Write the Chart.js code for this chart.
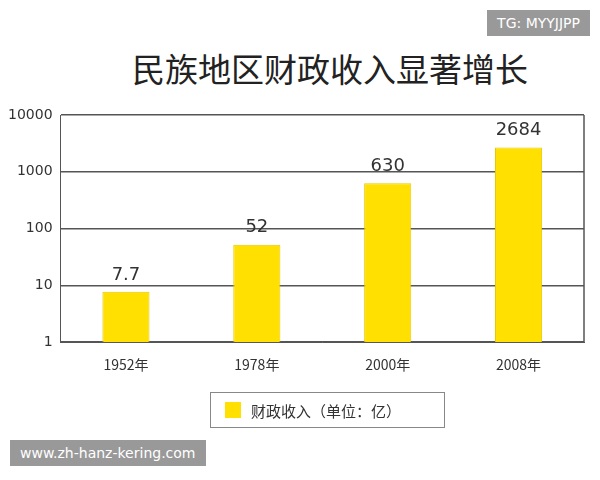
<!DOCTYPE html>
<html><head><meta charset="utf-8">
<script src="https://cdn.jsdelivr.net/npm/chart.js@4"></script>
<style>
body{margin:0;background:#fff;font-family:"Noto Sans CJK SC","Noto Sans",sans-serif;}
#wrap{position:relative;width:600px;height:480px;}
#title{position:absolute;top:44px;left:0;width:600px;text-align:center;font-size:33px;color:#222;padding-left:60px;box-sizing:border-box;}
.wm{position:absolute;background:#999;color:#fff;font-family:"DejaVu Sans",sans-serif;font-size:14px;padding:5px 10px;}
#legend{position:absolute;left:210px;top:392px;width:235px;height:36px;border:1px solid #888;display:flex;align-items:center;font-size:15px;color:#333;box-sizing:border-box;padding-left:14px;}
#legend span.sw{display:inline-block;width:16px;height:16px;background:#FFE000;margin-right:10px;}
</style></head><body>
<div id="wrap">
<div id="title">民族地区财政收入显著增长</div>
<canvas id="c" width="600" height="480" style="position:absolute;left:0;top:0"></canvas>
<div id="legend"><span class="sw"></span>财政收入（单位：亿）</div>
<div class="wm" style="right:10px;top:10px;">TG: MYYJJPP</div>
<div class="wm" style="left:10px;top:440px;">www.zh-hanz-kering.com</div>
</div>
<script>
const categories=["1952年","1978年","2000年","2008年"];
const values=[7.7,52,630,2684];
const tickValues=[1,10,100,1000,10000];
const labelPlugin={id:'lbl',afterDatasetsDraw(ch){const ctx=ch.ctx;const m=ch.getDatasetMeta(0);ctx.save();ctx.font='18px "DejaVu Sans",sans-serif';ctx.fillStyle='#333';ctx.textAlign='center';ctx.textBaseline='bottom';m.data.forEach((b,i)=>ctx.fillText(String(values[i]),b.x,b.y-8));ctx.restore();}};
new Chart(document.getElementById('c'),{type:'bar',
data:{labels:categories,datasets:[{data:values,backgroundColor:'#FFE000',borderColor:'#E8C800',borderWidth:1,barPercentage:0.36,categoryPercentage:1}]},
options:{responsive:false,animation:false,
layout:{padding:{left:0,right:16,top:115,bottom:101}},
plugins:{legend:{display:false},tooltip:{enabled:false}},
scales:{
x:{grid:{display:false},border:{color:'#555'},ticks:{color:'#333',font:{size:14,family:'"Noto Sans CJK SC"'},padding:6}},
y:{type:'logarithmic',min:1,max:10000,afterBuildTicks(s){s.ticks=tickValues.map(v=>({value:v}));},
grid:{color:'#555',lineWidth:1.5,drawTicks:false},border:{color:'#555'},
ticks:{color:'#333',font:{size:14,family:'"DejaVu Sans"'},padding:8,callback:v=>String(v)}}}},
plugins:[labelPlugin,{id:'rb',afterDraw(ch){const a=ch.chartArea,c=ch.ctx;c.save();c.strokeStyle='#555';c.lineWidth=1.5;c.beginPath();c.moveTo(a.right,a.top);c.lineTo(a.right,a.bottom);c.stroke();c.restore();}}]});
</script>
</body></html>
